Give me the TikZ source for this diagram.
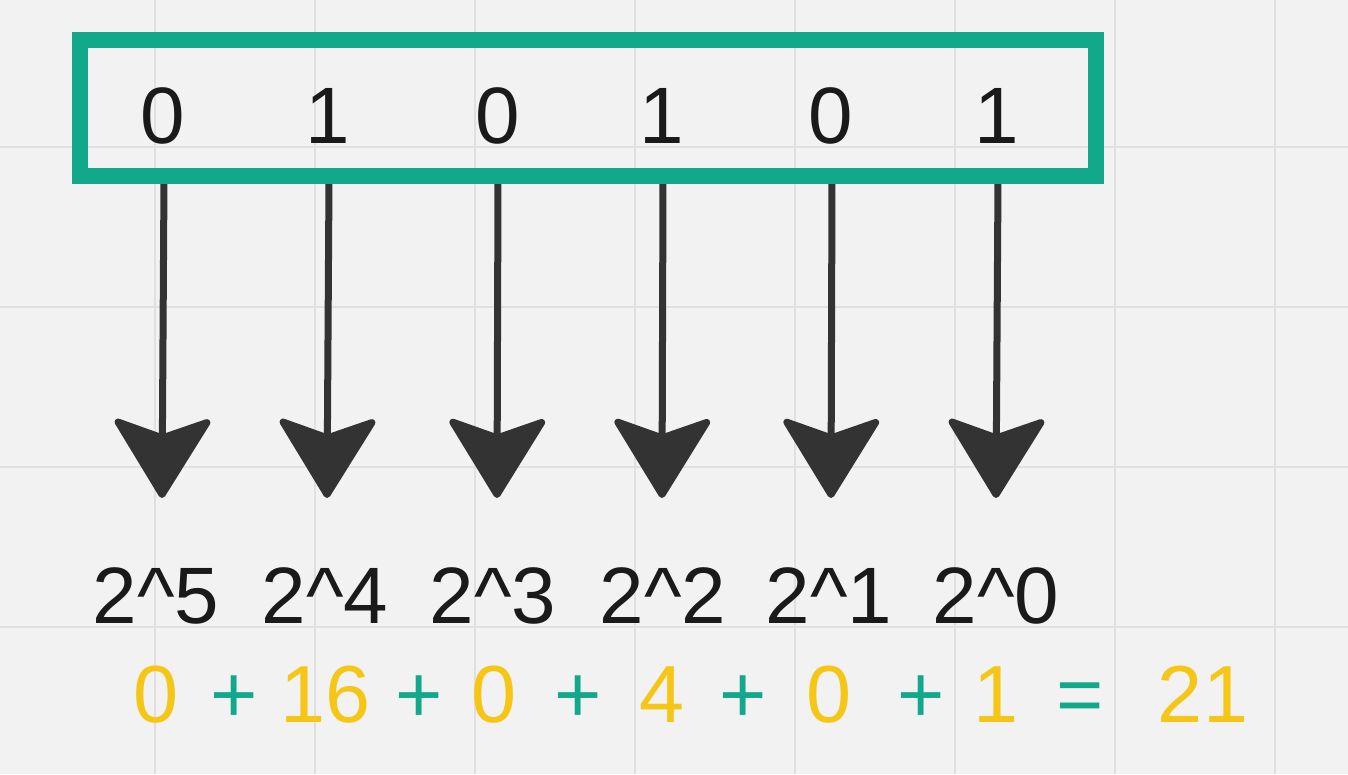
\documentclass[tikz,border=0pt]{standalone}
\usepackage{fontspec}
\setmainfont{Liberation Sans}
\usetikzlibrary{arrows.meta}
\definecolor{bgc}{HTML}{F2F2F2}
\definecolor{gridc}{HTML}{E0E0E0}
\definecolor{boxgreen}{HTML}{12A88A}
\definecolor{sumyellow}{HTML}{F6C616}
\definecolor{arrowc}{HTML}{333333}
\definecolor{textc}{HTML}{1A1A1A}
\tikzset{
  gridline/.style={draw=gridc, line width=2pt},
  bitbox/.style={draw=boxgreen, line width=16pt, minimum width=1016pt, minimum height=136pt, inner sep=0pt, outer sep=0pt},
  bit/.style={text=textc, anchor=base, inner sep=0pt, font=\fontsize{80}{90}\selectfont},
  power/.style={text=textc, anchor=base, inner sep=0pt, font=\fontsize{80}{90}\selectfont},
  sumnum/.style={text=sumyellow, anchor=base, inner sep=0pt, font=\fontsize{81}{90}\selectfont},
  sumop/.style={text=boxgreen, anchor=base, inner sep=0pt, font=\fontsize{81}{90}\selectfont},
  arr/.style={draw=arrowc, line width=7pt, -{Stealth[length=85pt, width=104pt, inset=18pt, round]}},
}
\begin{document}
\begin{tikzpicture}[x=1pt, y=-1pt]
\fill[bgc] (0,0) rectangle (1348,774);
\useasboundingbox (0,0) rectangle (1348,774);
\foreach \gx in {155,315,475,635,795,955,1115,1275} \draw[gridline] (\gx,0) -- (\gx,774);
\foreach \gy in {147,307,467,627} \draw[gridline] (0,\gy) -- (1348,\gy);

% arrows
\coordinate (s1) at (164,180); \coordinate (t1) at (162,498);
\coordinate (s2) at (329,180); \coordinate (t2) at (327,498);
\coordinate (s3) at (498,180); \coordinate (t3) at (497,498);
\coordinate (s4) at (663,180); \coordinate (t4) at (662,498);
\coordinate (s5) at (832,180); \coordinate (t5) at (831,498);
\coordinate (s6) at (998,180); \coordinate (t6) at (996,498);
\foreach \i in {1,...,6} \draw[arr] (s\i) -- (t\i);

% box with bits
\node[bitbox] (box) at (588,108) {};
\node[bit] (b1) at (163,143) {0};
\node[bit] (b2) at (328,143) {1};
\node[bit] (b3) at (498,143) {0};
\node[bit] (b4) at (662,143) {1};
\node[bit] (b5) at (831,143) {0};
\node[bit] (b6) at (997,143) {1};

% powers
\node[power] (p5) at (156,623) {2\^{}5};
\node[power] (p4) at (325,623) {2\^{}4};
\node[power] (p3) at (493,623) {2\^{}3};
\node[power] (p2) at (663,623) {2\^{}2};
\node[power] (p1) at (829,623) {2\^{}1};
\node[power] (p0) at (996,623) {2\^{}0};

% sum
\node[sumnum] (r1) at (156,722) {0};
\node[sumop]  (r2) at (234,722) {+};
\node[sumnum] (r3) at (326,722) {16};
\node[sumop]  (r4) at (419,722) {+};
\node[sumnum] (r5) at (494,722) {0};
\node[sumop]  (r6) at (578,722) {+};
\node[sumnum] (r7) at (662,722) {4};
\node[sumop]  (r8) at (743,722) {+};
\node[sumnum] (r9) at (829,722) {0};
\node[sumop]  (r10) at (921,722) {+};
\node[sumnum] (r11) at (996,722) {1};
\node[sumop]  (r12) at (1080,722) {=};
\node[sumnum] (r13) at (1203,722) {21};
\end{tikzpicture}
\end{document}
